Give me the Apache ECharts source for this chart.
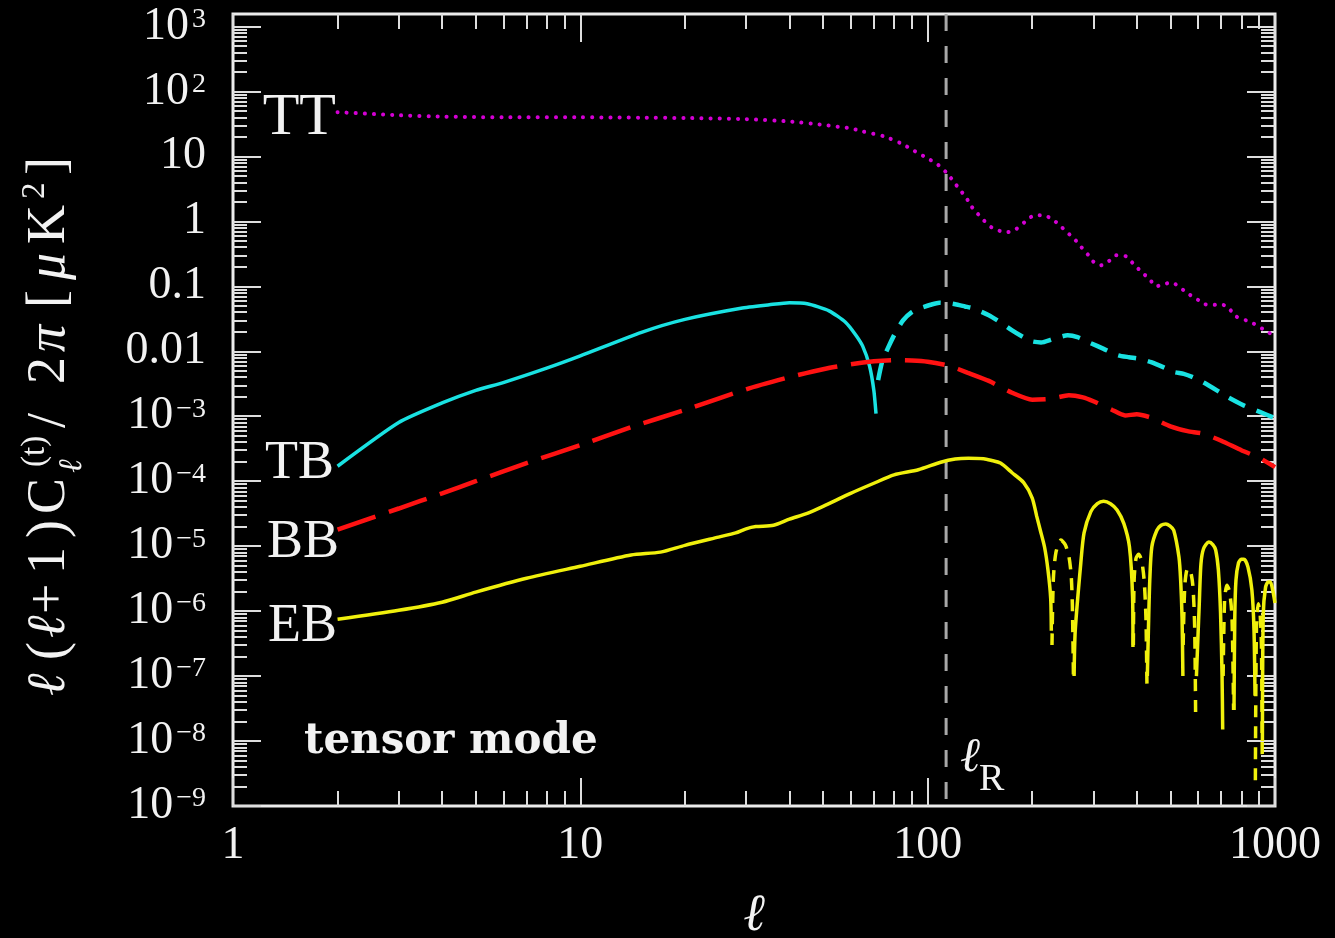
<!DOCTYPE html>
<html>
<head>
<meta charset="utf-8">
<title>Tensor-mode power spectra</title>
<script src="https://cdn.jsdelivr.net/npm/echarts@6.0.0/dist/echarts.min.js"></script>
<style>
  html, body { margin: 0; padding: 0; background: #000; }
  #chart { width: 1335px; height: 938px; }
</style>
</head>
<body>
<div id="chart"></div>
<script>
// Tensor-mode angular power spectra l(l+1)C_l/2pi [uK^2] against multipole l.
// Where TB or EB turn negative, |C_l| is drawn with a dashed line.

const ttEll = [2, 3, 4, 6, 10, 15, 20, 30, 40, 50, 60, 65, 75, 84, 90, 100, 106, 113, 118, 123,
  129, 133, 139, 145, 151, 159, 169, 179, 190, 203, 216, 229, 240, 252, 265, 276, 289, 299, 315, 332,
  348, 372, 390, 411, 436, 454, 479, 502, 529, 554, 592, 629, 654, 690, 728, 772, 853, 923, 1000];
const ttPower = [48, 43, 41, 40, 40, 39.5, 39, 37.5, 34.5, 30.5, 27, 24.3, 20.3, 15.8, 12.8, 9.3, 7.8, 5.7, 4.3, 3.2,
  2.34, 1.76, 1.33, 1.04, 0.84, 0.73, 0.68, 0.75, 0.97, 1.24, 1.24, 1.07, 0.87, 0.68, 0.53, 0.41, 0.31, 0.243, 0.21, 0.243,
  0.30, 0.29, 0.226, 0.17, 0.128, 0.10, 0.107, 0.115, 0.10, 0.081, 0.065, 0.053, 0.051, 0.053, 0.049, 0.0345, 0.028, 0.022, 0.017];

const tbPosEll = [2, 3, 4, 5, 6, 8, 10, 15, 20, 29, 35, 40, 45, 52, 58, 62, 65, 68, 70, 71];
const tbPosPower = [1.7e-4, 8.0e-4, 1.6e-3, 2.5e-3, 3.3e-3, 5.5e-3, 8.5e-3, 0.0196, 0.031, 0.046,
  0.052, 0.056, 0.054, 0.042, 0.028, 0.018, 0.012, 6.0e-3, 2.5e-3, 1.1e-3];

const tbNegEll = [72, 74, 77, 81, 85, 90, 95, 102, 108, 115, 122, 128, 135, 150, 162, 175, 189, 200, 212, 230,
  253, 270, 295, 320, 353, 380, 410, 440, 480, 511, 546, 580, 623, 680, 732, 812, 900, 1000];
const tbNegPower = [3.6e-3, 7e-3, 0.0115, 0.02, 0.030, 0.040, 0.046, 0.052, 0.056, 0.055, 0.052, 0.049, 0.046, 0.036, 0.028,
  0.021, 0.0164, 0.0142, 0.0137, 0.0155, 0.0176, 0.0165, 0.0133, 0.011, 0.0087, 0.0081, 0.0076, 0.0068, 0.0056, 0.0048,
  0.0045, 0.004, 0.0033, 0.0025, 0.00196, 0.00147, 0.00118, 0.00093];

const bbEll = [2, 3, 4, 5, 7, 10, 14, 20, 30, 40, 50, 60, 70, 80, 90, 100, 115, 130, 150, 175,
  200, 225, 255, 280, 300, 340, 370, 400, 440, 500, 560, 620, 700, 800, 900, 1000];
const bbPower = [1.8e-5, 3.8e-5, 6.5e-5, 1.0e-4, 1.9e-4, 3.6e-4, 6.8e-4, 1.25e-3, 2.6e-3, 4.0e-3,
  5.3e-3, 6.3e-3, 7.0e-3, 7.3e-3, 7.2e-3, 6.9e-3, 6.0e-3, 4.7e-3, 3.5e-3, 2.3e-3,
  1.8e-3, 1.85e-3, 2.1e-3, 1.95e-3, 1.7e-3, 1.25e-3, 1.03e-3, 1.07e-3, 0.95e-3, 7.0e-4,
  5.9e-4, 5.4e-4, 4.2e-4, 3.0e-4, 2.3e-4, 1.65e-4];

// EB, positive lobes (null separates the lobes)
const ebPosEll = [2, 3, 4, 5, 7, 10, 14, 17, 20, 25, 28, 30, 32, 36, 40, 45, 50, 60, 70, 80,
  94, 109, 120, 131, 145, 152, 162, 175, 189, 200, 206, 211, 217, 222, 226, 227, null,
  264, 266, 276, 282, 295, 308, 321, 336, 351, 367, 381, 389, 390, null,
  429, 432, 436, 442, 457, 470, 485, 498, 511, 529, 535, 540, 543, null,
  594, 600, 605, 612, 623, 645, 663, 675, 687, 697, 704, 707, null,
  762, 766, 772, 785, 800, 814, 836, 858, 870, 876, null,
  920, 925, 939, 955, 970, 985, 1000];
const ebPosPower = [7.5e-7, 1.03e-6, 1.37e-6, 1.96e-6, 3.2e-6, 4.9e-6, 7.3e-6, 8.1e-6, 1.03e-5, 1.38e-5,
  1.6e-5, 1.85e-5, 2.0e-5, 2.1e-5, 2.6e-5, 3.2e-5, 4.1e-5, 6.5e-5, 9.3e-5, 1.25e-4,
  1.5e-4, 1.96e-4, 2.2e-4, 2.26e-4, 2.22e-4, 2.1e-4, 1.9e-4, 1.35e-4, 9.5e-5, 5.5e-5,
  2.9e-5, 1.76e-5, 9.7e-6, 4.3e-6, 1.6e-6, 5e-7, null,
  1e-7, 5e-7, 5.5e-6, 1.6e-5, 3.4e-5, 4.5e-5, 4.9e-5, 4.5e-5, 3.6e-5, 2.24e-5, 9.8e-6, 1.66e-6, 2.8e-7, null,
  1e-7, 5e-7, 3e-6, 9.8e-6, 1.76e-5, 2.1e-5, 2.2e-5, 2.05e-5, 1.76e-5, 6.8e-6, 3e-6, 8e-7, 1e-7, null,
  1e-7, 4e-7, 1.2e-6, 5.3e-6, 9.2e-6, 1.16e-5, 1.05e-5, 8.7e-6, 4.3e-6, 9.4e-7, 1e-7, 1.5e-8, null,
  3e-8, 8e-7, 3.0e-6, 5.5e-6, 6.3e-6, 6.3e-6, 4.75e-6, 2.1e-6, 5.1e-7, 5e-8, null,
  1e-8, 9e-7, 2.3e-6, 2.8e-6, 2.8e-6, 2.1e-6, 1.33e-6];

// EB, negative lobes as |C_l|
const ebNegEll = [228, 230, 234, 242, 249, 255, 259, 261, 263, null,
  391, 393, 398, 405, 413, 420, 425, 428, null,
  544, 550, 560, 570, 580, 587, 591, null,
  709, 716, 727, 740, 752, 760, null,
  878, 884, 895, 905, 914, 919];
const ebNegPower = [3e-7, 3e-6, 8e-6, 1.24e-5, 1.05e-5, 7e-6, 3.5e-6, 1.2e-6, 8e-8, null,
  3e-7, 3e-6, 6.5e-6, 7.5e-6, 6e-6, 3e-6, 8e-7, 6.6e-8, null,
  3e-7, 2.5e-6, 4.5e-6, 4.3e-6, 2.5e-6, 6e-7, 2.1e-8, null,
  1e-7, 1.5e-6, 2.5e-6, 2e-6, 8e-7, 3e-8, null,
  2.5e-9, 5e-7, 1.3e-6, 1e-6, 3e-7, 5e-9];

const lRecomb = 113;

const xTickValues = [1, 10, 100, 1000];
const xTickLabels = ['1', '10', '100', '1000'];
const yTickValues = [1e-9, 1e-8, 1e-7, 1e-6, 1e-5, 1e-4, 1e-3, 0.01, 0.1, 1, 10, 100, 1000];
const yTickLabels = ['10^−9', '10^−8', '10^−7', '10^−6', '10^−5', '10^−4', '10^−3',
  '0.01', '0.1', '1', '10', '10^2', '10^3'];

const X_MIN = 1, X_MAX = 1000;
const Y_MIN = 1e-9, Y_MAX = 1557;

const WHITE = '#f2f2f2';
const TICK = '#dedede';
const SERIF = '"Liberation Serif", "DejaVu Serif", serif';

function pairs(ell, power) {
  return ell.map((l, i) => (l == null || power[i] == null) ? ['-', '-'] : [l, power[i]]);
}

function minorTicks(lo, hi, max) {
  const out = [];
  for (let d = lo; d <= hi; d++) {
    for (let m = 2; m <= 9; m++) {
      const v = m * Math.pow(10, d);
      if (v < max) out.push(v);
    }
  }
  return out;
}
const xMinor = minorTicks(0, 2, X_MAX);
const yMinor = minorTicks(-9, 3, Y_MAX);

function indexOfTick(values, v) {
  const lv = Math.log10(v);
  return values.findIndex(t => Math.abs(Math.log10(t) - lv) < 1e-6);
}

function xAxisDef(position, major) {
  const ax = {
    type: 'log', logBase: 10, min: X_MIN, max: X_MAX, position: position, gridIndex: 0,
    axisLine: { show: false },
    splitLine: { show: false },
    axisTick: {
      show: true, inside: true, length: major ? 28 : 15,
      lineStyle: { color: TICK, width: 2 },
      customValues: major ? xTickValues : xMinor
    },
    axisLabel: { show: false }
  };
  if (major && position === 'bottom') {
    ax.axisLabel = {
      show: true, customValues: xTickValues, margin: 17,
      color: WHITE, fontFamily: SERIF, fontSize: 46, lineHeight: 46,
      formatter: v => xTickLabels[indexOfTick(xTickValues, v)]
    };
    ax.name = 'ℓ';
    ax.nameLocation = 'middle';
    ax.nameGap = 84;
    ax.nameTextStyle = { color: WHITE, fontFamily: SERIF, fontStyle: 'italic', fontSize: 52, lineHeight: 52 };
  }
  return ax;
}

function yAxisDef(position, major) {
  const ax = {
    type: 'log', logBase: 10, min: Y_MIN, max: Y_MAX, position: position, gridIndex: 0,
    axisLine: { show: false },
    splitLine: { show: false },
    axisTick: {
      show: true, inside: true, length: major ? 28 : 14,
      lineStyle: { color: TICK, width: 2 },
      customValues: major ? yTickValues : yMinor
    },
    axisLabel: { show: false }
  };
  if (major && position === 'left') {
    ax.axisLabel = {
      show: true, customValues: yTickValues, margin: 27,
      formatter: v => {
        const parts = yTickLabels[indexOfTick(yTickValues, v)].split('^');
        return parts.length > 1 ? '{b|' + parts[0] + '}{s|' + parts[1] + '}' : '{b|' + parts[0] + '}';
      },
      rich: {
        b: { color: WHITE, fontFamily: SERIF, fontSize: 46, lineHeight: 50 },
        s: { color: WHITE, fontFamily: SERIF, fontSize: 28, lineHeight: 28, padding: [0, 0, 14, 3] }
      }
    };
  }
  return ax;
}

function text(str, x, y, size, opts) {
  opts = opts || {};
  const font = (opts.italic ? 'italic ' : '') + (opts.bold ? 'bold ' : '') + size + 'px ' + (opts.family || SERIF);
  return {
    type: 'text', x: x, y: y, silent: true,
    style: {
      text: str, fill: WHITE, font: font,
      align: opts.align || 'left', textAlign: opts.align || 'left',
      verticalAlign: 'middle', textVerticalAlign: 'middle'
    }
  };
}

// y-axis title, laid out along its own baseline and turned to read upwards
const titlePieces = [
  ['ℓ', 0, 0, 54, true], ['(', 36, 0, 54], ['ℓ', 58, 0, 54, true], ['+', 82, 0, 54],
  ['1', 122, 0, 54], [')', 158, 0, 54], ['C', 182, 0, 54],
  ['(t)', 229, -15, 33], ['ℓ', 223, 22, 33, true],
  ['/', 268, 0, 54], ['2', 312, 0, 54], ['π', 344, 0, 54, true],
  ['[', 388, 0, 54], ['μ', 416, 0, 54, true], ['K', 452, 0, 54],
  ['2', 497, -15, 33], [']', 521, 0, 54]
];

const chart = echarts.init(document.getElementById('chart'), null, { renderer: 'canvas' });

chart.setOption({
  backgroundColor: '#000',
  animation: false,
  grid: {
    left: 233, right: 60, top: 14, bottom: 132,
    show: true, borderColor: '#ececec', borderWidth: 3, backgroundColor: 'transparent',
    containLabel: false, outerBoundsMode: 'none'
  },
  xAxis: [xAxisDef('bottom', true), xAxisDef('bottom', false), xAxisDef('top', true), xAxisDef('top', false)],
  yAxis: [yAxisDef('left', true), yAxisDef('left', false), yAxisDef('right', true), yAxisDef('right', false)],
  series: [
    {
      name: 'ℓR', type: 'line', data: [[lRecomb, Y_MAX], [lRecomb, Y_MIN]],
      showSymbol: false, silent: true,
      lineStyle: { color: '#a8a8a8', width: 3, type: [17, 15] }
    },
    {
      name: 'TT', type: 'line', data: pairs(ttEll, ttPower), showSymbol: false, silent: true, smooth: 0.2,
      lineStyle: { color: '#d400d4', width: 4, type: [0.1, 9], cap: 'round' }
    },
    {
      name: 'TB', type: 'line', data: pairs(tbPosEll, tbPosPower), showSymbol: false, silent: true, smooth: 0.2,
      lineStyle: { color: '#19e2e2', width: 3.5 }
    },
    {
      name: '−TB', type: 'line', data: pairs(tbNegEll, tbNegPower), showSymbol: false, silent: true, smooth: 0.2,
      lineStyle: { color: '#19e2e2', width: 4.5, type: [18, 12] }
    },
    {
      name: 'BB', type: 'line', data: pairs(bbEll, bbPower), showSymbol: false, silent: true, smooth: 0.2,
      lineStyle: { color: '#ff1212', width: 4.5, type: [40, 14] }
    },
    {
      name: 'EB', type: 'line', data: pairs(ebPosEll, ebPosPower), showSymbol: false, silent: true, smooth: 0.25,
      connectNulls: false,
      lineStyle: { color: '#f0f00c', width: 3.5 }
    },
    {
      name: '−EB', type: 'line', data: pairs(ebNegEll, ebNegPower), showSymbol: false, silent: true, smooth: 0.25,
      connectNulls: false,
      lineStyle: { color: '#f0f00c', width: 3.5, type: [12, 9] }
    }
  ],
  graphic: [
    {
      type: 'group', x: 50, y: 696, rotation: Math.PI / 2, silent: true,
      children: titlePieces.map(p => text(p[0], p[1], p[2], p[3], { italic: !!p[4] }))
    },
    text('TT', 336, 118, 60, { align: 'right' }),
    text('TB', 334, 464, 54, { align: 'right' }),
    text('BB', 339, 543, 54, { align: 'right' }),
    text('EB', 337, 627, 54, { align: 'right' }),
    text('tensor mode', 304, 742, 42, { bold: true, family: '"DejaVu Serif", serif' }),
    text('ℓ', 960, 758, 48, { italic: true }),
    text('R', 979, 780, 38)
  ]
});
</script>
</body>
</html>
